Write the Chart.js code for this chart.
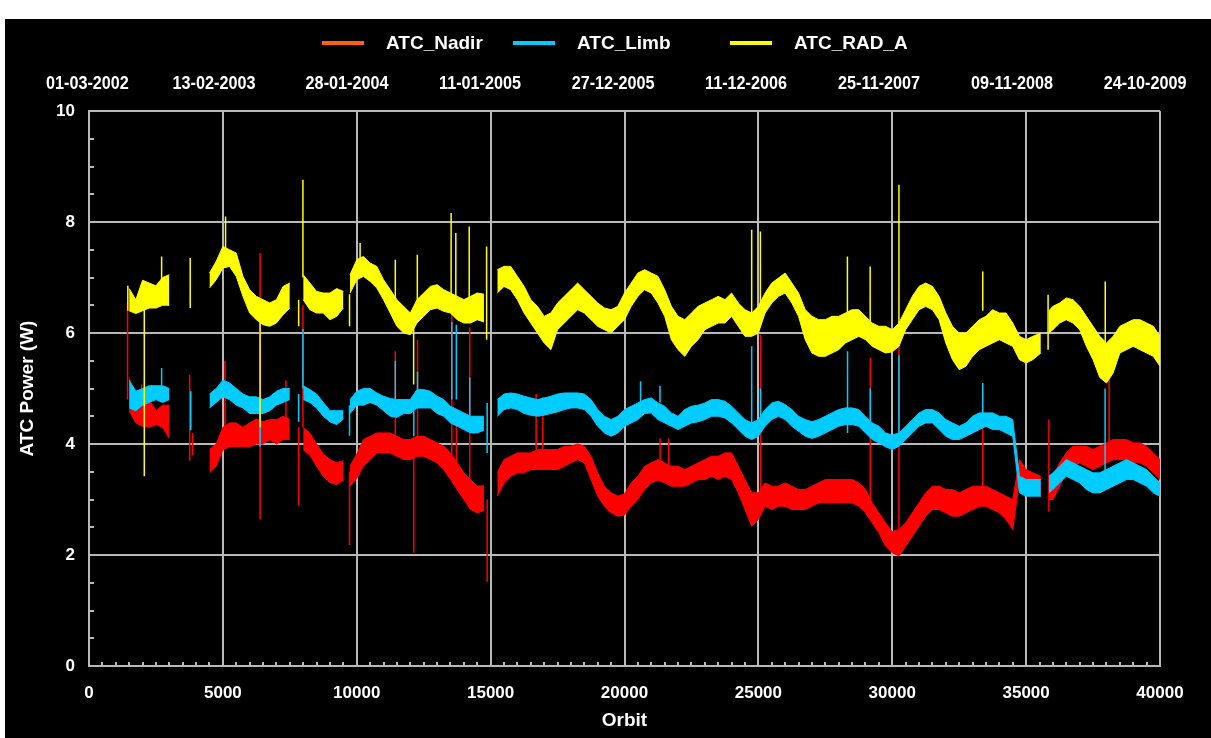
<!DOCTYPE html>
<html lang="en">
<head>
<meta charset="UTF-8">
<title>ATC Power</title>
<style>
  html, body { margin: 0; padding: 0; background: #fff; }
  #wrap { position: absolute; left: 5px; top: 19px; width: 1206px; height: 719px; background: #000; }
  canvas { display: block; }
</style>
</head>
<body>
<div id="wrap"><canvas id="atcChart" width="1206" height="719"></canvas></div>

<script src="https://cdn.jsdelivr.net/npm/chart.js"></script>
<script>
// orbit positions of the envelope samples (null rows in the value arrays are data gaps)
const orbits = [
  1500, 1750, 2000, 2250, 2500, 2750, 3000,
  3250,
  4500, 4750, 5000, 5250, 5500, 5750, 6000, 6250, 6500, 6750, 7000, 7250, 7500,
  7750,
  8000, 8250, 8500, 8750, 9000, 9250, 9500,
  9600,
  9750, 10000, 10250, 10500, 10750, 11000, 11250, 11500, 11750, 12000, 12250, 12500, 12750, 13000, 13250, 13500, 13750, 14000, 14250, 14500, 14750,
  15000,
  15250, 15500, 15750, 16000, 16250, 16500, 16750, 17000, 17250, 17500, 17750, 18000, 18250, 18500, 18750, 19000, 19250, 19500, 19750, 20000,
  20250, 20500, 20750, 21000, 21250, 21500, 21750, 22000, 22250, 22500, 22750, 23000, 23250, 23500, 23750, 24000, 24250, 24500, 24750, 25000,
  25250, 25500, 25750, 26000, 26250, 26500, 26750, 27000, 27250, 27500, 27750, 28000, 28250, 28500, 28750, 29000, 29250, 29500, 29750, 30000,
  30250, 30500, 30750, 31000, 31250, 31500, 31750, 32000, 32250, 32500, 32750, 33000, 33250, 33500, 33750, 34000, 34250, 34500, 34750, 35000,
  35250, 35550,
  35700,
  35850, 36000, 36250, 36500, 36750, 37000, 37250, 37500, 37750, 38000, 38250, 38500, 38750, 39000, 39250, 39500, 39750, 40000
];

// ATC_Nadir noise band, lower / upper edge (W)
const nadirLow = [
  4.60, 4.38, 4.32, 4.30, 4.35, 4.30, 4.10,
  null,
  3.48, 3.60, 3.90, 3.95, 3.95, 3.95, 3.95, 4.00, 4.00, 4.08, 4.00, 4.08, 4.08,
  null,
  3.90, 3.80, 3.60, 3.42, 3.30, 3.27, 3.35,
  null,
  3.24, 3.38, 3.60, 3.72, 3.84, 3.84, 3.84, 3.78, 3.72, 3.72, 3.78, 3.78, 3.72, 3.66, 3.54, 3.36, 3.18, 3.00, 2.82, 2.76, 2.80,
  null,
  3.06, 3.30, 3.42, 3.48, 3.48, 3.54, 3.54, 3.54, 3.54, 3.54, 3.60, 3.66, 3.72, 3.66, 3.36, 3.06, 2.88, 2.76, 2.70, 2.72,
  2.88, 3.00, 3.18, 3.30, 3.35, 3.30, 3.24, 3.24, 3.24, 3.30, 3.36, 3.36, 3.42, 3.36, 3.42, 3.36, 3.12, 2.82, 2.52, 2.64,
  2.88, 2.82, 2.88, 2.88, 2.82, 2.82, 2.82, 2.88, 2.94, 2.94, 2.94, 2.94, 2.94, 2.94, 2.88, 2.76, 2.58, 2.40, 2.16, 2.04,
  1.98, 2.16, 2.34, 2.52, 2.70, 2.82, 2.82, 2.76, 2.70, 2.70, 2.76, 2.82, 2.88, 2.88, 2.82, 2.76, 2.64, 2.46, 3.36, 3.24,
  3.18, 3.06,
  null,
  3.00, 3.00, 3.24, 3.48, 3.60, 3.66, 3.60, 3.54, 3.60, 3.66, 3.72, 3.72, 3.72, 3.66, 3.66, 3.60, 3.48, 3.36
];
const nadirHigh = [
  5.20, 4.70, 4.80, 4.80, 4.60, 4.70, 4.70,
  null,
  3.90, 4.00, 4.30, 4.38, 4.38, 4.30, 4.38, 4.45, 4.40, 4.44, 4.44, 4.50, 4.44,
  null,
  4.30, 4.20, 4.00, 3.82, 3.72, 3.66, 3.70,
  null,
  3.60, 3.82, 4.08, 4.14, 4.20, 4.20, 4.20, 4.14, 4.08, 4.08, 4.14, 4.14, 4.08, 4.02, 3.96, 3.84, 3.66, 3.48, 3.36, 3.24, 3.25,
  null,
  3.48, 3.72, 3.78, 3.84, 3.84, 3.84, 3.90, 3.90, 3.90, 3.90, 3.96, 3.96, 4.00, 3.96, 3.78, 3.48, 3.24, 3.12, 3.06, 3.10,
  3.30, 3.42, 3.60, 3.66, 3.72, 3.66, 3.60, 3.60, 3.54, 3.60, 3.66, 3.72, 3.78, 3.78, 3.84, 3.84, 3.60, 3.36, 3.12, 3.12,
  3.30, 3.24, 3.24, 3.30, 3.24, 3.18, 3.18, 3.24, 3.30, 3.36, 3.36, 3.36, 3.36, 3.36, 3.30, 3.18, 2.94, 2.76, 2.58, 2.42,
  2.46, 2.58, 2.76, 2.94, 3.12, 3.24, 3.24, 3.18, 3.18, 3.12, 3.18, 3.24, 3.24, 3.24, 3.18, 3.12, 3.06, 3.00, 3.72, 3.54,
  3.48, 3.42,
  null,
  3.36, 3.42, 3.66, 3.84, 3.96, 3.96, 3.96, 3.90, 3.96, 4.02, 4.08, 4.08, 4.08, 4.02, 4.02, 3.96, 3.84, 3.72
];

// ATC_Limb noise band
const limbLow = [
  4.65, 4.60, 4.70, 4.75, 4.80, 4.75, 4.80,
  null,
  4.65, 4.75, 4.85, 4.80, 4.70, 4.65, 4.55, 4.55, 4.55, 4.60, 4.70, 4.75, 4.80,
  null,
  4.80, 4.75, 4.65, 4.50, 4.40, 4.35, 4.45,
  null,
  4.55, 4.70, 4.70, 4.75, 4.70, 4.60, 4.50, 4.48, 4.55, 4.55, 4.65, 4.65, 4.65, 4.55, 4.50, 4.38, 4.32, 4.26, 4.20, 4.20, 4.25,
  null,
  4.50, 4.62, 4.65, 4.62, 4.55, 4.52, 4.50, 4.52, 4.55, 4.58, 4.62, 4.65, 4.65, 4.62, 4.50, 4.32, 4.20, 4.14, 4.20, 4.32,
  4.38, 4.44, 4.55, 4.56, 4.44, 4.38, 4.32, 4.26, 4.32, 4.38, 4.40, 4.44, 4.50, 4.50, 4.47, 4.38, 4.26, 4.14, 4.08, 4.14,
  4.32, 4.44, 4.50, 4.44, 4.32, 4.23, 4.14, 4.10, 4.14, 4.20, 4.26, 4.32, 4.35, 4.35, 4.32, 4.20, 4.08, 4.02, 3.95, 3.90,
  3.96, 4.08, 4.20, 4.32, 4.38, 4.38, 4.26, 4.14, 4.08, 4.08, 4.14, 4.20, 4.26, 4.32, 4.26, 4.26, 4.20, 4.14, 3.12, 3.06,
  3.06, 3.06,
  null,
  3.12, 3.18, 3.30, 3.42, 3.36, 3.30, 3.18, 3.12, 3.12, 3.18, 3.24, 3.30, 3.36, 3.36, 3.30, 3.24, 3.12, 3.06
];
const limbHigh = [
  5.15, 4.95, 5.00, 5.05, 5.05, 5.05, 5.00,
  null,
  4.90, 5.00, 5.15, 5.10, 5.00, 4.90, 4.85, 4.85, 4.80, 4.85, 4.95, 5.00, 5.00,
  null,
  5.05, 4.98, 4.90, 4.75, 4.60, 4.60, 4.60,
  null,
  4.80, 4.95, 5.00, 5.00, 4.92, 4.86, 4.82, 4.80, 4.80, 4.80, 4.98, 4.98, 4.95, 4.86, 4.80, 4.68, 4.62, 4.56, 4.50, 4.50, 4.50,
  null,
  4.80, 4.90, 4.92, 4.90, 4.86, 4.83, 4.80, 4.83, 4.86, 4.90, 4.92, 4.92, 4.92, 4.90, 4.80, 4.62, 4.50, 4.44, 4.50, 4.62,
  4.68, 4.74, 4.80, 4.83, 4.74, 4.68, 4.56, 4.50, 4.62, 4.68, 4.70, 4.74, 4.80, 4.80, 4.77, 4.68, 4.56, 4.44, 4.38, 4.44,
  4.62, 4.74, 4.77, 4.71, 4.62, 4.50, 4.44, 4.40, 4.44, 4.50, 4.56, 4.62, 4.65, 4.65, 4.62, 4.50, 4.38, 4.32, 4.20, 4.16,
  4.20, 4.32, 4.44, 4.56, 4.62, 4.62, 4.56, 4.44, 4.38, 4.32, 4.38, 4.50, 4.56, 4.56, 4.56, 4.50, 4.50, 4.44, 3.42, 3.36,
  3.36, 3.36,
  null,
  3.42, 3.48, 3.60, 3.72, 3.66, 3.60, 3.54, 3.48, 3.48, 3.54, 3.60, 3.66, 3.72, 3.66, 3.60, 3.54, 3.42, 3.30
];

// ATC_RAD_A noise band
const radLow = [
  6.40, 6.35, 6.40, 6.45, 6.45, 6.50, 6.50,
  null,
  6.81, 6.96, 7.17, 7.20, 7.02, 6.66, 6.36, 6.24, 6.15, 6.12, 6.18, 6.33, 6.45,
  null,
  6.60, 6.42, 6.36, 6.36, 6.24, 6.30, 6.45,
  null,
  6.72, 6.96, 7.02, 6.93, 6.81, 6.60, 6.36, 6.12, 6.00, 5.97, 6.18, 6.30, 6.42, 6.45, 6.39, 6.36, 6.24, 6.18, 6.18, 6.24, 6.20,
  null,
  6.72, 6.84, 6.78, 6.60, 6.36, 6.18, 6.00, 5.82, 5.70, 6.06, 6.18, 6.30, 6.42, 6.36, 6.24, 6.12, 6.06, 6.00, 6.12, 6.24,
  6.48, 6.66, 6.78, 6.72, 6.54, 6.30, 5.88, 5.70, 5.58, 5.76, 5.88, 6.06, 6.12, 6.18, 6.18, 6.30, 6.12, 5.94, 5.94, 6.00,
  6.36, 6.54, 6.66, 6.72, 6.54, 6.30, 5.88, 5.64, 5.58, 5.58, 5.64, 5.70, 5.82, 5.88, 5.94, 5.88, 5.76, 5.70, 5.64, 5.66,
  5.76, 6.06, 6.24, 6.42, 6.48, 6.42, 6.24, 5.82, 5.52, 5.34, 5.40, 5.58, 5.70, 5.76, 5.82, 5.88, 5.82, 5.76, 5.52, 5.46,
  5.52, 5.64,
  null,
  6.00, 6.06, 6.18, 6.24, 6.18, 6.06, 5.76, 5.52, 5.20, 5.10, 5.28, 5.64, 5.70, 5.76, 5.70, 5.64, 5.58, 5.40
];
const radHigh = [
  6.80, 6.60, 6.95, 6.90, 6.85, 7.00, 7.05,
  null,
  7.08, 7.29, 7.56, 7.50, 7.44, 7.02, 6.78, 6.66, 6.60, 6.54, 6.60, 6.84, 6.90,
  null,
  7.05, 6.90, 6.75, 6.72, 6.72, 6.80, 6.75,
  null,
  7.05, 7.32, 7.38, 7.26, 7.20, 6.96, 6.78, 6.60, 6.48, 6.36, 6.60, 6.72, 6.84, 6.87, 6.78, 6.72, 6.66, 6.60, 6.66, 6.72, 6.70,
  null,
  7.14, 7.20, 7.20, 7.02, 6.84, 6.60, 6.48, 6.30, 6.36, 6.54, 6.66, 6.78, 6.90, 6.78, 6.66, 6.54, 6.45, 6.42, 6.48, 6.72,
  6.90, 7.08, 7.14, 7.08, 7.02, 6.78, 6.48, 6.30, 6.24, 6.36, 6.48, 6.54, 6.60, 6.66, 6.60, 6.72, 6.54, 6.42, 6.36, 6.48,
  6.72, 6.90, 6.99, 7.08, 6.90, 6.72, 6.42, 6.30, 6.24, 6.24, 6.30, 6.30, 6.36, 6.42, 6.42, 6.30, 6.18, 6.12, 6.12, 6.06,
  6.18, 6.42, 6.66, 6.84, 6.90, 6.84, 6.66, 6.36, 6.12, 6.00, 6.00, 6.12, 6.24, 6.30, 6.42, 6.36, 6.36, 6.18, 5.94, 5.88,
  5.94, 6.00,
  null,
  6.40, 6.48, 6.54, 6.63, 6.60, 6.48, 6.30, 6.12, 5.94, 5.82, 5.94, 6.12, 6.18, 6.24, 6.24, 6.18, 6.12, 5.94
];

// single-orbit outliers: orbit, band value, spike end
const nadirSpikeOrbit = [1440, 1966, 3760, 3870, 5080, 6390, 7355, 7830, 7990, 9730, 11440, 12130, 12270, 13550, 13720, 14220, 14870, 16700, 16950, 21330, 21650, 25080, 29180, 30250, 33380, 35850, 38100];
const nadirSpikeFrom  = [4.80, 4.50, 3.70, 3.80, 4.20, 2.64, 4.40, 4.30, 4.30, 3.50, 4.10, 3.90, 4.00, 3.80, 3.50, 3.00, 3.00, 3.90, 3.90, 3.60, 3.60, 3.00, 3.00, 2.00, 3.10, 2.78, 3.80];
const nadirSpikeTo    = [6.55, 5.07, 5.25, 4.20, 5.50, 7.44, 5.15, 2.90, 6.50, 2.18, 5.67, 2.04, 5.88, 6.40, 4.50, 6.10, 1.52, 4.90, 4.85, 4.10, 4.10, 5.97, 5.55, 5.85, 4.50, 4.44, 5.35];

const limbSpikeOrbit = [2712, 3800, 6390, 7830, 7990, 9730, 11440, 12130, 12270, 13550, 13720, 14220, 14870, 20600, 21325, 24750, 25080, 28330, 29180, 30250, 33380, 37950];
const limbSpikeFrom  = [5.00, 4.25, 3.95, 4.40, 5.00, 4.15, 4.80, 4.14, 4.80, 4.80, 4.80, 4.40, 3.84, 4.70, 4.75, 4.10, 4.30, 4.20, 4.20, 4.10, 4.40, 3.30];
const limbSpikeTo    = [5.37, 4.95, 4.70, 4.90, 6.07, 4.70, 5.50, 4.60, 5.30, 6.20, 6.15, 5.20, 4.74, 5.13, 5.05, 5.76, 5.00, 5.67, 5.00, 5.60, 5.10, 5.00];

const radSpikeOrbit = [1450, 2065, 2712, 3780, 5100, 6390, 7830, 7990, 9730, 10125, 11440, 12125, 12262, 13525, 13700, 14200, 14850, 24750, 25075, 28325, 29175, 30250, 33380, 35820, 37955];
const radSpikeFrom  = [6.40, 6.50, 6.90, 6.45, 7.50, 6.30, 6.60, 7.00, 6.70, 7.30, 6.60, 6.10, 6.50, 6.70, 6.60, 6.60, 5.88, 6.30, 6.30, 6.30, 6.20, 6.00, 6.40, 5.70, 5.60];
const radSpikeTo    = [6.85, 3.42, 7.38, 7.35, 8.10, 4.30, 6.12, 8.76, 6.12, 7.62, 7.32, 5.07, 7.41, 8.16, 7.80, 7.92, 7.56, 7.86, 7.83, 7.38, 7.20, 8.67, 7.11, 6.69, 6.93];

// top axis: calendar date of every 5000th orbit
const dateOrbits = [0, 5000, 10000, 15000, 20000, 25000, 30000, 35000, 40000];
const dateLabels = ['01-03-2002', '13-02-2003', '28-01-2004', '11-01-2005', '27-12-2005',
                    '11-12-2006', '25-11-2007', '09-11-2008', '24-10-2009'];

const FONT = 'Arial, "Liberation Sans", Helvetica, sans-serif';
const GRID = '#b9b9b9';
const RED = '#ff0000', CYAN = '#00ccff', YELLOW = '#ffff00';

function bandPoints(values) {
  return orbits.map((o, i) => ({ x: o, y: values[i] }));
}
function spikePoints(orb, from, to) {
  return orb.flatMap((o, i) => [{ x: o, y: from[i] }, { x: o, y: to[i] }, { x: o, y: null }]);
}

function seriesSets(name, color, low, high, sOrb, sFrom, sTo, order) {
  return [
    { label: name, data: bandPoints(high), borderColor: color, backgroundColor: color,
      borderWidth: 1, fill: '+1', order: order + 0.1 },
    { label: name + ' low', data: bandPoints(low), borderColor: color, borderWidth: 1,
      fill: false, order: order + 0.2 },
    { label: name + ' spikes', data: spikePoints(sOrb, sFrom, sTo), borderColor: color,
      borderWidth: 1.5, fill: false, order: order }
  ];
}

// legend entries drawn on top of the canvas (Nadir key is orange in the original)
const legendItems = [
  { text: 'ATC_Nadir', color: '#ff6010', x: 317 },
  { text: 'ATC_Limb', color: CYAN, x: 508 },
  { text: 'ATC_RAD_A', color: YELLOW, x: 725 }
];

const decorations = {
  id: 'decorations',
  afterDraw(chart) {
    const { ctx, chartArea: a, scales: { x, y, date } } = chart;
    ctx.save();
    // inner minor ticks
    ctx.strokeStyle = GRID;
    ctx.lineWidth = 2;
    ctx.beginPath();
    for (let o = 500; o < 40000; o += 500) {
      if (o % 5000 === 0) continue;
      const px = Math.round(x.getPixelForValue(o));
      ctx.moveTo(px, a.bottom);
      ctx.lineTo(px, a.bottom - 4);
    }
    for (let v = 0.5; v < 10; v += 0.5) {
      if (v % 2 === 0) continue;
      const py = Math.round(y.getPixelForValue(v));
      ctx.moveTo(a.left, py);
      ctx.lineTo(a.left + 5, py);
    }
    ctx.stroke();

    // legend
    ctx.font = 'bold 19px ' + FONT;
    ctx.textBaseline = 'alphabetic';
    legendItems.forEach(it => {
      ctx.fillStyle = it.color;
      ctx.fillRect(it.x, 22, 42, 4);
      ctx.fillStyle = '#fff';
      ctx.fillText(it.text, it.x + 64, 30);
    });

    // date labels along the top, on their own (slightly narrower) date axis
    ctx.font = 'bold 18px ' + FONT;
    ctx.textAlign = 'center';
    dateLabels.forEach((t, i) => {
      const w = ctx.measureText(t).width * 0.9;
      let cx = date.getPixelForValue(dateOrbits[i]);
      cx = Math.max(cx, 41 + w / 2);
      ctx.save();
      ctx.translate(cx, 70);
      ctx.scale(0.9, 1);
      ctx.fillText(t, 0, 0);
      ctx.restore();
    });
    ctx.restore();
  }
};

new Chart(document.getElementById('atcChart'), {
  type: 'line',
  data: {
    datasets: [
      ...seriesSets('ATC_Nadir', RED, nadirLow, nadirHigh, nadirSpikeOrbit, nadirSpikeFrom, nadirSpikeTo, 4),
      ...seriesSets('ATC_Limb', CYAN, limbLow, limbHigh, limbSpikeOrbit, limbSpikeFrom, limbSpikeTo, 2),
      ...seriesSets('ATC_RAD_A', YELLOW, radLow, radHigh, radSpikeOrbit, radSpikeFrom, radSpikeTo, 0)
    ]
  },
  options: {
    responsive: false,
    animation: false,
    events: [],
    layout: { padding: { top: 92, right: 51, left: 0, bottom: 0 } },
    elements: { point: { radius: 0 }, line: { tension: 0 } },
    plugins: { legend: { display: false }, tooltip: { enabled: false } },
    scales: {
      x: {
        type: 'linear', min: 0, max: 40000,
        afterFit: s => { s.height = 72; },
        ticks: { stepSize: 5000, color: '#fff', padding: 17, maxRotation: 0, autoSkip: false,
                 font: { family: FONT, size: 17, weight: 'bold' }, callback: v => String(v) },
        grid: { color: GRID, lineWidth: 2, drawTicks: false },
        border: { color: GRID, width: 2 },
        title: { display: true, text: 'Orbit', color: '#fff', padding: { top: 0, bottom: 6 },
                 font: { family: FONT, size: 19, weight: 'bold' } }
      },
      y: {
        min: 0, max: 10,
        afterFit: s => { s.width = 84; },
        ticks: { stepSize: 2, color: '#fff', padding: 14,
                 font: { family: FONT, size: 17, weight: 'bold' } },
        grid: { color: GRID, lineWidth: 2, drawTicks: false },
        border: { color: GRID, width: 2 },
        title: { display: true, text: 'ATC Power (W)', color: '#fff', padding: { top: 11, bottom: 0 },
                 font: { family: FONT, size: 19, weight: 'bold' } }
      },
      // date axis is a little compressed relative to the orbit axis in the original
      date: { type: 'linear', axis: 'x', position: 'top', display: false, bounds: 'data',
              min: 300, max: 40560 }
    }
  },
  plugins: [decorations]
});
</script>
</body>
</html>
